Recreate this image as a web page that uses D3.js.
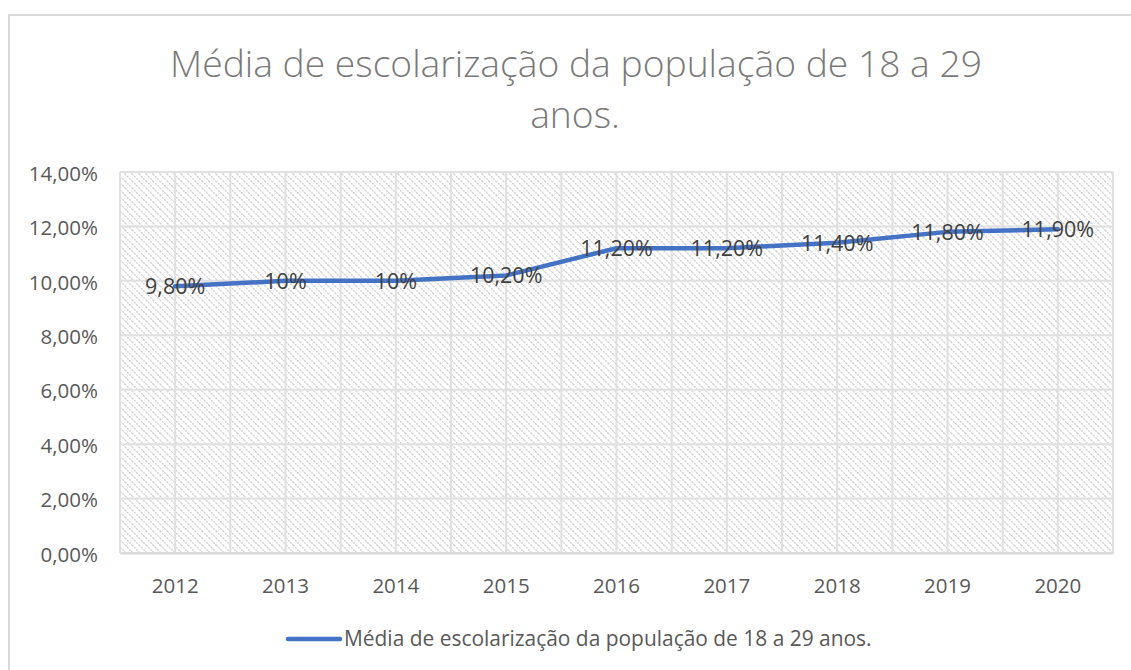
<!DOCTYPE html>
<html>
<head>
<meta charset="utf-8">
<script src="https://cdn.jsdelivr.net/npm/d3@7"></script>
<style>
  html, body { margin: 0; padding: 0; background: #ffffff; }
  svg { display: block; }
  text { font-family: "Open Sans", "Liberation Sans", sans-serif; }
</style>
</head>
<body>
<svg id="chart" width="1131" height="670"></svg>
<script>
const titleLines = ["Média de escolarização da população de 18 a 29", "anos."];
const seriesName = "Média de escolarização da população de 18 a 29 anos.";
const years = ["2012", "2013", "2014", "2015", "2016", "2017", "2018", "2019", "2020"];
const values = [9.8, 10, 10, 10.2, 11.2, 11.2, 11.4, 11.8, 11.9];
const valueLabels = ["9,80%", "10%", "10%", "10,20%", "11,20%", "11,20%", "11,40%", "11,80%", "11,90%"];
const yTicks = [0, 2, 4, 6, 8, 10, 12, 14];
const yTickLabels = ["0,00%", "2,00%", "4,00%", "6,00%", "8,00%", "10,00%", "12,00%", "14,00%"];

const svg = d3.select("#chart");
const W = 1131, H = 670;
const plot = { left: 120, right: 1113, top: 172, bottom: 553 };

const x = d3.scaleBand().domain(years).range([plot.left, plot.right]).padding(0);
const y = d3.scaleLinear().domain([0, 14]).range([plot.bottom, plot.top]);

// chart border (top and left visible)
svg.append("path")
  .attr("d", `M9,${H + 5} L9,15 L${W + 5},15`)
  .attr("fill", "none").attr("stroke", "#d9d9d9").attr("stroke-width", 2);

// hatch pattern
const defs = svg.append("defs");
const pat = defs.append("pattern").attr("id", "hatch")
  .attr("patternUnits", "userSpaceOnUse").attr("width", 7).attr("height", 7);
pat.append("path").attr("d", "M-1,-1 L8,8 M-1,6 L1,8 M6,-1 L8,1")
  .attr("stroke", "#cfcfcf").attr("stroke-width", 1.3).attr("stroke-dasharray", "2,1");

svg.append("rect")
  .attr("x", plot.left).attr("y", plot.top)
  .attr("width", plot.right - plot.left).attr("height", plot.bottom - plot.top)
  .attr("fill", "url(#hatch)");

// vertical gridlines: band edges and centres
const vLines = [];
years.forEach(d => { vLines.push(x(d)); vLines.push(x(d) + x.bandwidth() / 2); });
vLines.push(plot.right);
svg.append("g").selectAll("line").data(vLines).join("line")
  .attr("x1", d => d).attr("x2", d => d)
  .attr("y1", plot.top).attr("y2", plot.bottom)
  .attr("stroke", "#e0e0e0").attr("stroke-width", 2);

// horizontal gridlines
svg.append("g").selectAll("line").data(yTicks).join("line")
  .attr("x1", plot.left).attr("x2", plot.right)
  .attr("y1", d => y(d)).attr("y2", d => y(d))
  .attr("stroke", "#e0e0e0").attr("stroke-width", 2);

// y axis labels
const yAxis = d3.axisLeft(y).tickValues(yTicks).tickFormat((d, i) => yTickLabels[i]).tickSize(0).tickPadding(22);
const yg = svg.append("g").attr("transform", `translate(${plot.left},0)`).call(yAxis);
yg.select(".domain").remove();
yg.selectAll("text").attr("font-size", 20.5).attr("fill", "#595959")
  .attr("font-family", "'Open Sans', sans-serif").attr("dy", "0.4em");

// x axis labels
const xAxis = d3.axisBottom(x).tickSize(0).tickPadding(25);
const xg = svg.append("g").attr("transform", `translate(0,${plot.bottom})`).call(xAxis);
xg.select(".domain").attr("stroke", "#d9d9d9").attr("stroke-width", 2);
xg.selectAll("text").attr("font-size", 20.5).attr("fill", "#595959")
  .attr("font-family", "'Open Sans', sans-serif");

// line
const pts = years.map((d, i) => [x(d) + x.bandwidth() / 2, y(values[i])]);
svg.append("path")
  .attr("d", d3.line()(pts))
  .attr("fill", "none").attr("stroke", "#4472c4").attr("stroke-width", 4.5)
  .attr("stroke-linecap", "round").attr("stroke-linejoin", "round");

// data labels
svg.append("g").selectAll("text").data(years).join("text")
  .attr("x", (d) => x(d) + x.bandwidth() / 2)
  .attr("y", (d, i) => y(values[i]) + 8)
  .attr("text-anchor", "middle")
  .attr("font-size", 21.5).attr("fill", "#404040")
  .text((d, i) => valueLabels[i]);

// fit helper
function fit(sel, target) {
  const n = sel.node();
  const size = parseFloat(sel.attr("font-size"));
  const w = n.getComputedTextLength();
  sel.attr("font-size", size * target / w);
}

// title
const t1 = svg.append("text").attr("x", 576).attr("y", 77).attr("text-anchor", "middle")
  .attr("font-size", 36).attr("fill", "#7a7a7a").attr("font-weight", 300).text(titleLines[0]);
fit(t1, 812);
const t2 = svg.append("text").attr("x", 575).attr("y", 128).attr("text-anchor", "middle")
  .attr("font-size", t1.attr("font-size")).attr("fill", "#7a7a7a").attr("font-weight", 300).text(titleLines[1]);

// legend
svg.append("line").attr("x1", 288).attr("x2", 340).attr("y1", 639).attr("y2", 639)
  .attr("stroke", "#4472c4").attr("stroke-width", 4.5).attr("stroke-linecap", "round");
const lt = svg.append("text").attr("x", 344).attr("y", 646)
  .attr("font-size", 18).attr("fill", "#595959").text(seriesName);
fit(lt, 528);
</script>
</body>
</html>
